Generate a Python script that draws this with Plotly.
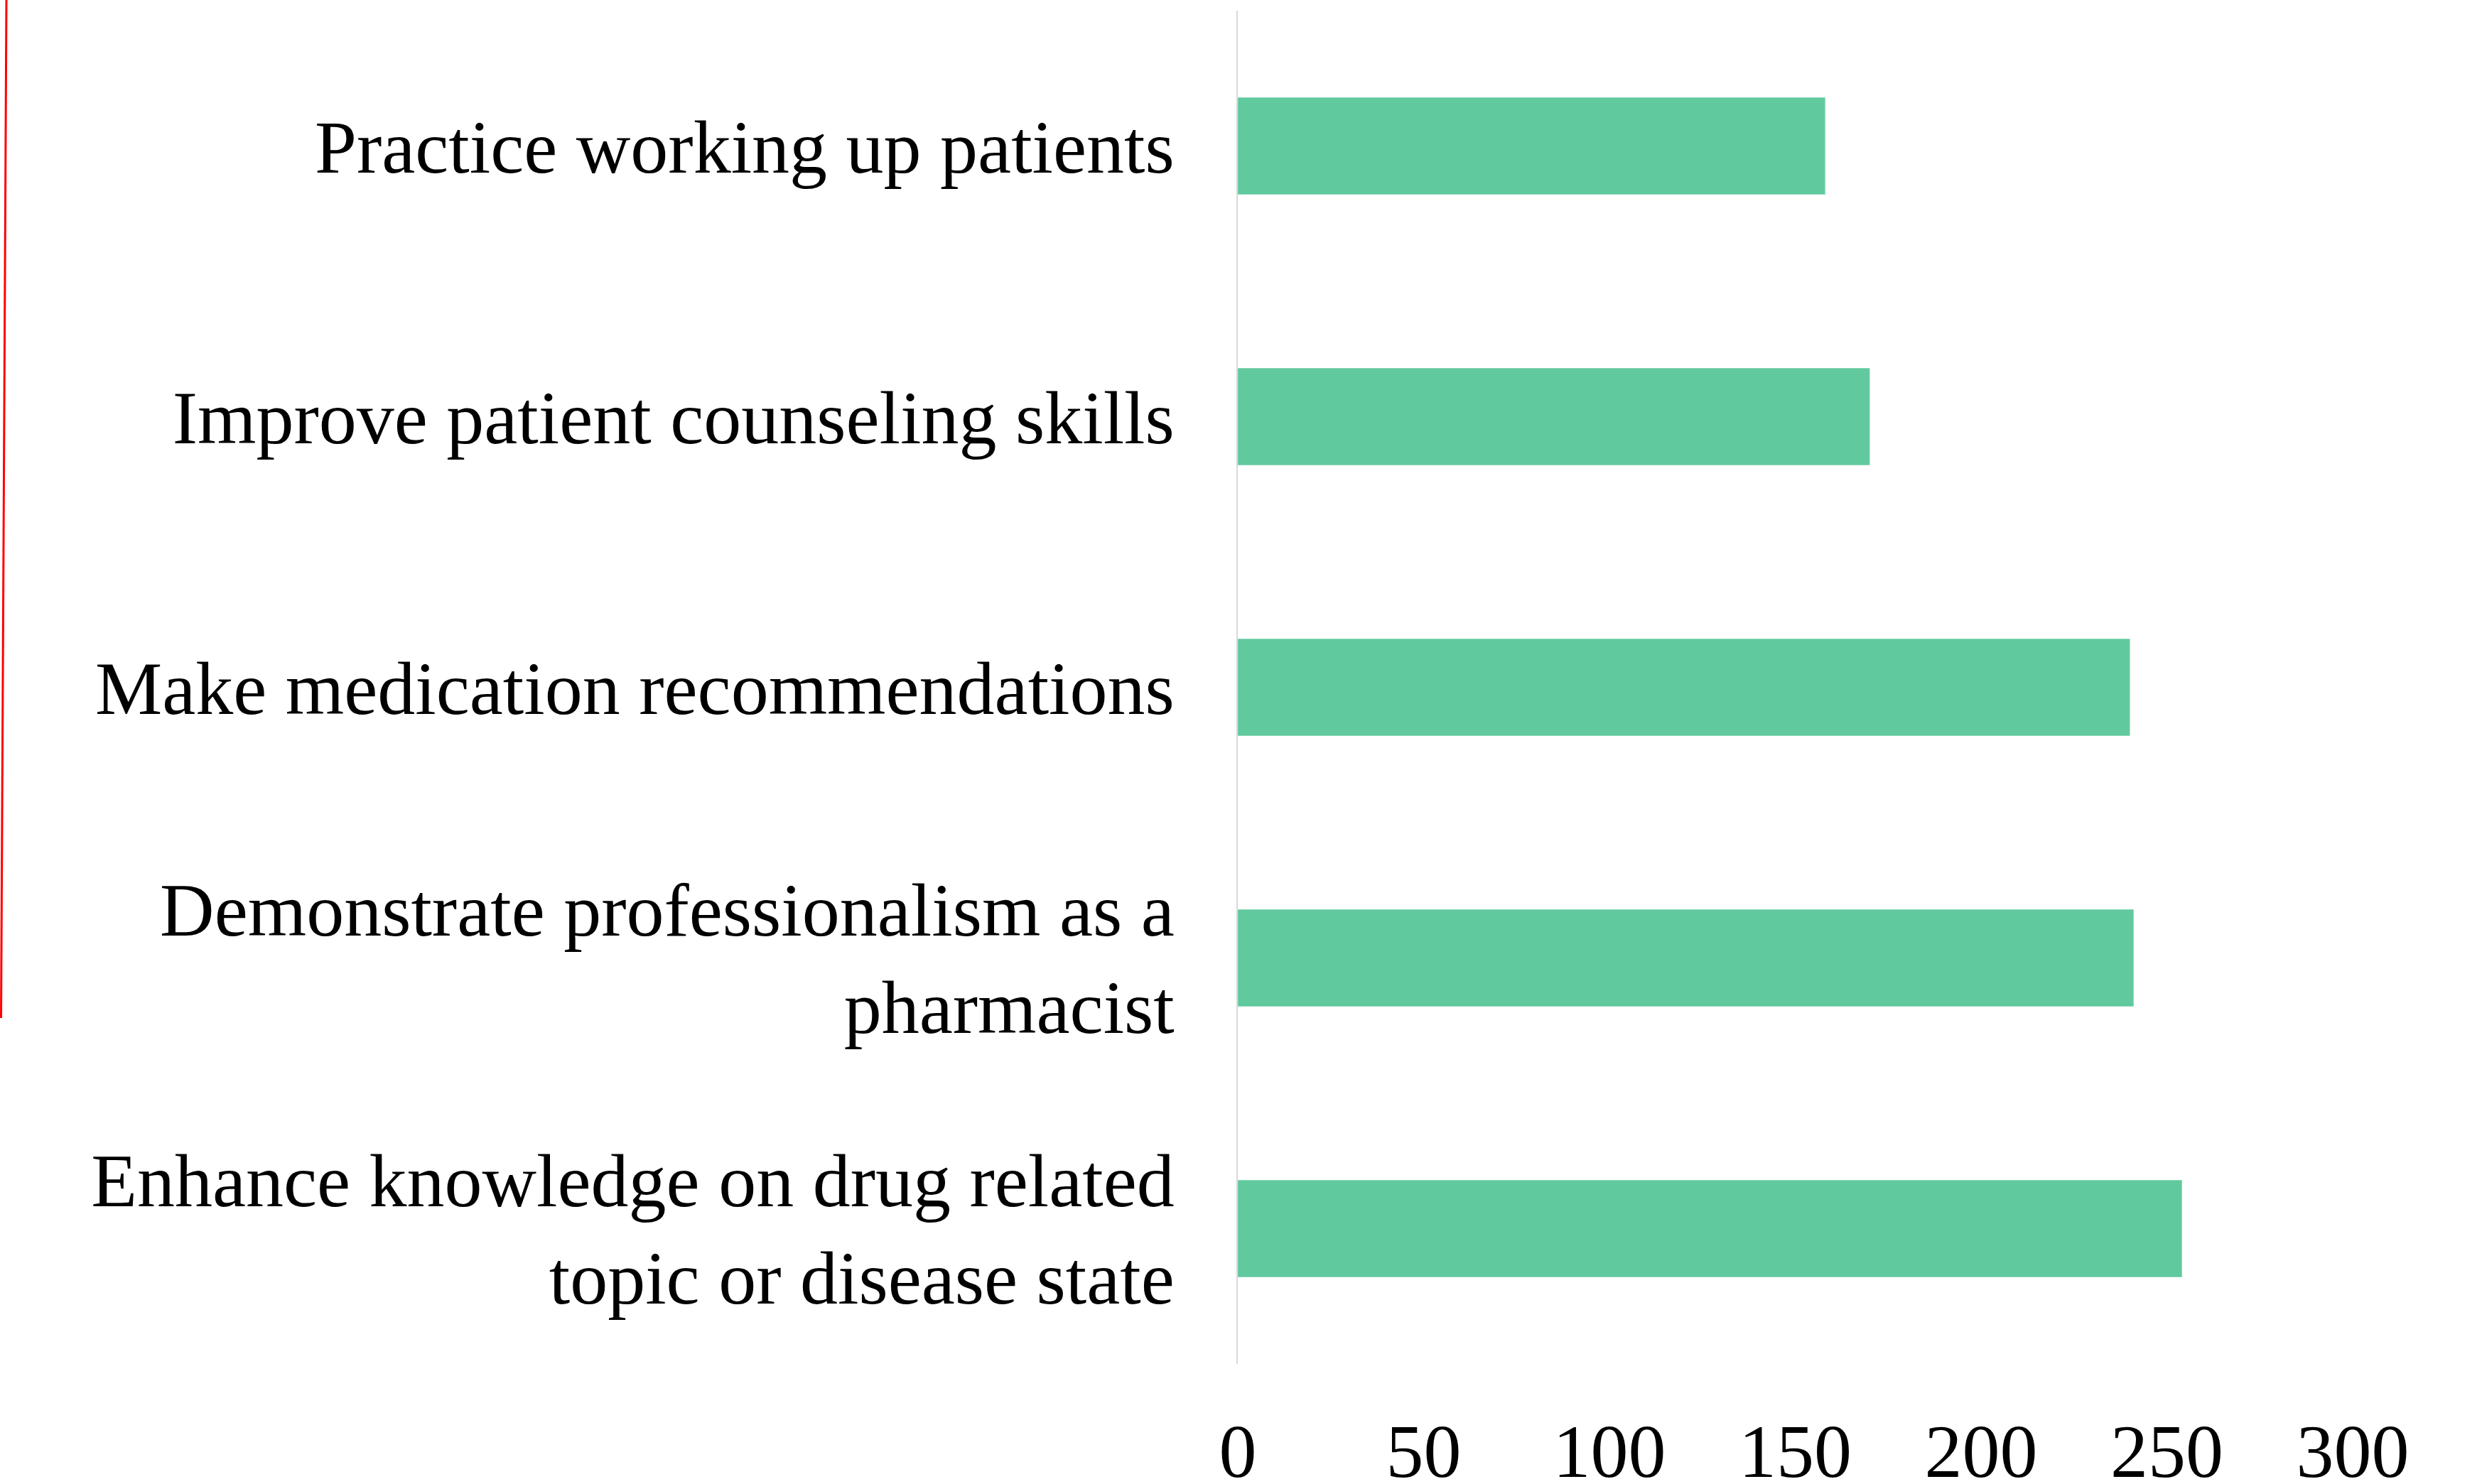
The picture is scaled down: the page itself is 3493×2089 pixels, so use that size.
import plotly.graph_objects as go

# Data (bottom to top as drawn by Plotly)
categories = [
    "Enhance knowledge on drug related<br>topic or disease state",
    "Demonstrate professionalism as a<br>pharmacist",
    "Make medication recommendations",
    "Improve patient counseling skills",
    "Practice working up patients",
]
values = [254, 241, 240, 170, 158]
x_ticks = [0, 50, 100, 150, 200, 250, 300]

W, H = 3493, 2089
ML, MR, MT, MB = 1742, 182, 15, 169
FONT = "Liberation Serif, Times New Roman, serif"

fig = go.Figure(
    go.Bar(
        x=values,
        y=categories,
        orientation="h",
        marker=dict(color="#60C99E", line=dict(width=1, color="#8ED8B8")),
        hoverinfo="x+y",
    )
)

# decorative red stroke at far left of the reference image
pw = W - ML - MR
ph = H - MT - MB
def px_to_paper_x(px):
    return (px - ML) / pw
def py_to_paper_y(py):
    return (H - MB - py) / ph

fig.add_shape(
    type="line", xref="paper", yref="paper",
    x0=px_to_paper_x(9), y0=py_to_paper_y(0),
    x1=px_to_paper_x(1.5), y1=py_to_paper_y(1433),
    line=dict(color="#FF0000", width=3),
)

fig.update_layout(
    width=W, height=H,
    margin=dict(l=ML, r=MR, t=MT, b=MB, pad=0, autoexpand=False),
    paper_bgcolor="white", plot_bgcolor="white",
    bargap=0.643,
    showlegend=False,
    font=dict(family=FONT, size=106, color="black"),
)
fig.update_xaxes(
    range=[0, 300], tickvals=x_ticks, ticktext=[str(v) for v in x_ticks],
    showgrid=False, zeroline=False, showline=False, automargin=False,
    ticks="", ticklabelstandoff=52,
    tickfont=dict(family=FONT, size=106, color="black"),
)
fig.update_yaxes(
    range=[-0.5, 4.5], categoryorder="array", categoryarray=categories,
    showgrid=False, zeroline=False, automargin=False,
    showline=True, linecolor="#D9D9D9", linewidth=2,
    ticks="", ticklabelstandoff=66,
    tickfont=dict(family=FONT, size=106, color="black"),
)

fig.write_html(
    "out.html",
    config={"displayModeBar": False},
    post_script="document.body.style.margin='0';document.body.style.overflow='hidden';",
)
